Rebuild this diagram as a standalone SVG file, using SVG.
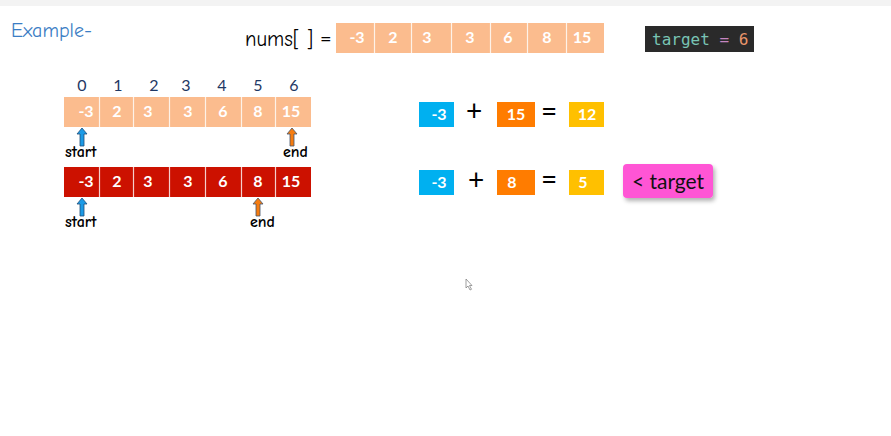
<svg xmlns="http://www.w3.org/2000/svg" width="891" height="436" viewBox="0 0 891 436">
<defs>
<style>
.hand{font-family:"Comic Neue","Open Sans","Liberation Sans",sans-serif;fill:#000}
.lbl{font-size:16px;font-weight:bold}
.num{font-family:Lato,"Open Sans","Liberation Sans",sans-serif;font-weight:bold;fill:#fff;font-size:16px;text-anchor:middle}
.idx{font-family:Lato,"Open Sans","Liberation Sans",sans-serif;fill:#1f3864;font-size:16px;text-anchor:middle}
.peach{fill:#fbbc8e}
.red{fill:#cc1100}
.sep{stroke:#fff;stroke-width:1.2;stroke-opacity:0.8}
.op{font-family:Lato,"Open Sans","Liberation Sans",sans-serif;font-size:28px;fill:#000;text-anchor:middle}
.blue{fill:#00b0f0}
.orange{fill:#ff7c00}
.yellow{fill:#ffc000}
.arrB{fill:#1d9be6;stroke:#1f4e79;stroke-width:0.8}
.arrO{fill:#f57c10;stroke:#44546a;stroke-width:0.8}
.mono{font-family:"DejaVu Sans Mono","Liberation Mono",monospace;font-size:16px}
</style>
<filter id="sh" x="-20%" y="-20%" width="150%" height="160%">
<feDropShadow dx="2" dy="3" stdDeviation="2" flood-color="#000" flood-opacity="0.3"/>
</filter>
<path id="arrow" d="M-2,18 L-2,6 L-5,6 L0,0 L5,6 L2,6 L2,18 Z"/>
</defs>
<rect width="891" height="436" fill="#fff"/>
<rect width="891" height="6" fill="#f3f3f3"/>

<g id="title">
<text x="11" y="37" class="hand" font-size="20" style="fill:#3b7dc4">Example-</text>
</g>

<g id="nums">
<text x="245" y="46" class="hand" font-size="23" textLength="68" lengthAdjust="spacingAndGlyphs">nums[ ]</text>
<text x="320" y="46" font-family="Lato,'Open Sans',sans-serif" font-size="20" fill="#000">=</text>
<rect x="336" y="23" width="268" height="30" class="peach"/>
<g class="sep">
<line x1="374.5" y1="23" x2="374.5" y2="53"/>
<line x1="411.5" y1="23" x2="411.5" y2="53"/>
<line x1="451.5" y1="23" x2="451.5" y2="53"/>
<line x1="490.5" y1="23" x2="490.5" y2="53"/>
<line x1="527.5" y1="23" x2="527.5" y2="53"/>
<line x1="566.5" y1="23" x2="566.5" y2="53"/>
</g>
<text x="357" y="43" class="num">-3</text>
<text x="393" y="43" class="num">2</text>
<text x="427" y="43" class="num">3</text>
<text x="470" y="43" class="num">3</text>
<text x="508" y="43" class="num">6</text>
<text x="547" y="43" class="num">8</text>
<text x="582" y="43" class="num">15</text>
</g>

<g id="target">
<rect x="645" y="26" width="109" height="26" fill="#2a2a2a"/>
<text x="652" y="44.5" class="mono"><tspan fill="#79c4b4">target</tspan><tspan fill="#c586c0"> = </tspan><tspan fill="#e8956a">6</tspan></text>
</g>

<g id="indices">
<text x="82" y="91" class="idx">0</text>
<text x="118" y="91" class="idx">1</text>
<text x="154" y="91" class="idx">2</text>
<text x="186" y="91" class="idx">3</text>
<text x="222" y="91" class="idx">4</text>
<text x="258" y="91" class="idx">5</text>
<text x="294" y="91" class="idx">6</text>
</g>

<g id="array1">
<rect x="64" y="97" width="247" height="30" class="peach"/>
<g class="sep">
<line x1="99.5" y1="97" x2="99.5" y2="127"/>
<line x1="133.5" y1="97" x2="133.5" y2="127"/>
<line x1="169.5" y1="97" x2="169.5" y2="127"/>
<line x1="205.5" y1="97" x2="205.5" y2="127"/>
<line x1="241.5" y1="97" x2="241.5" y2="127"/>
<line x1="275.5" y1="97" x2="275.5" y2="127"/>
</g>
<text x="86" y="117" class="num">-3</text>
<text x="117" y="117" class="num">2</text>
<text x="148" y="117" class="num">3</text>
<text x="188" y="117" class="num">3</text>
<text x="223" y="117" class="num">6</text>
<text x="258" y="117" class="num">8</text>
<text x="291" y="117" class="num">15</text>
</g>

<g id="array2">
<rect x="64" y="167" width="247" height="30" class="red"/>
<g class="sep">
<line x1="99.5" y1="167" x2="99.5" y2="197"/>
<line x1="133.5" y1="167" x2="133.5" y2="197"/>
<line x1="169.5" y1="167" x2="169.5" y2="197"/>
<line x1="205.5" y1="167" x2="205.5" y2="197"/>
<line x1="241.5" y1="167" x2="241.5" y2="197"/>
<line x1="275.5" y1="167" x2="275.5" y2="197"/>
</g>
<text x="86" y="187" class="num">-3</text>
<text x="117" y="187" class="num">2</text>
<text x="148" y="187" class="num">3</text>
<text x="188" y="187" class="num">3</text>
<text x="223" y="187" class="num">6</text>
<text x="258" y="187" class="num">8</text>
<text x="291" y="187" class="num">15</text>
</g>

<g id="pointers">
<use href="#arrow" x="82" y="128" class="arrB"/>
<text x="65" y="157" class="hand lbl">start</text>
<use href="#arrow" x="292" y="128" class="arrO"/>
<text x="283" y="157" class="hand lbl">end</text>
<use href="#arrow" x="82" y="198" class="arrB"/>
<text x="65" y="227" class="hand lbl">start</text>
<use href="#arrow" x="258" y="198" class="arrO"/>
<text x="250" y="227" class="hand lbl">end</text>
</g>

<g id="sum1">
<rect x="419" y="102" width="35" height="25" class="blue"/>
<text x="439" y="120" class="num">-3</text>
<text x="474" y="121" class="op">+</text>
<rect x="497" y="102" width="38" height="25" class="orange"/>
<text x="516" y="120" class="num">15</text>
<text x="549" y="121" class="op">=</text>
<rect x="569" y="102" width="35" height="25" class="yellow"/>
<text x="587" y="120" class="num">12</text>
</g>

<g id="sum2">
<rect x="419" y="170" width="35" height="25" class="blue"/>
<text x="439" y="188" class="num">-3</text>
<text x="476" y="190" class="op">+</text>
<rect x="497" y="170" width="38" height="25" class="orange"/>
<text x="512" y="188" class="num">8</text>
<text x="549" y="189" class="op">=</text>
<rect x="569" y="170" width="35" height="25" class="yellow"/>
<text x="583" y="188" class="num">5</text>
</g>

<g id="lt-target">
<rect x="623" y="164" width="90" height="34" rx="4" fill="#ff55d5" filter="url(#sh)"/>
<text x="668" y="189" font-family="Lato,'Open Sans','Liberation Sans',sans-serif" font-size="21" fill="#111" text-anchor="middle">&lt; target</text>
</g>

<path d="M466,279 L466,288 L468,286 L470,290 L471.5,289.3 L469.5,285.5 L472,285.5 Z" fill="#fff" stroke="#777" stroke-width="0.7"/>
</svg>
